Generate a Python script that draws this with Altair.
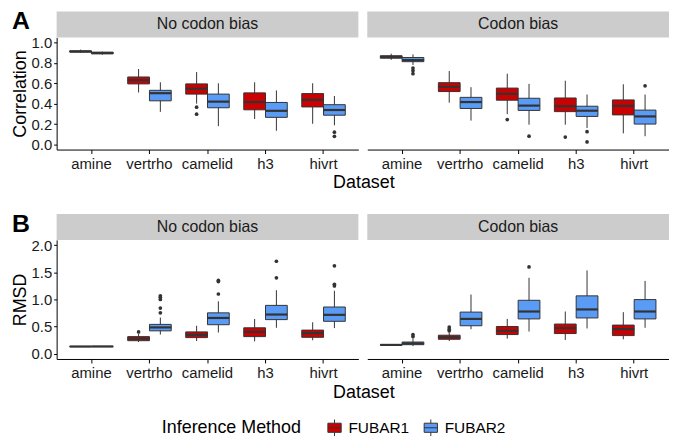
import altair as alt
import pandas as pd

datasets = ["amine", "vertrho", "camelid", "h3", "hivrt"]
methods = ["FUBAR1", "FUBAR2"]
method_colors = ["#CC0000", "#5A9BF5"]
facet_labels = ["No codon bias", "Codon bias"]
corr_ticks = [0.0, 0.2, 0.4, 0.6, 0.8, 1.0]
rmsd_ticks = [0.0, 0.5, 1.0, 1.5, 2.0]

# five-number summaries per dataset: [lower whisker, q1, median, q3, upper whisker]
corr_nobias_fubar1 = [[0.900, 0.906, 0.912, 0.918, 0.930],
                      [0.510, 0.594, 0.631, 0.662, 0.740],
                      [0.400, 0.494, 0.547, 0.594, 0.710],
                      [0.250, 0.340, 0.416, 0.506, 0.610],
                      [0.203, 0.368, 0.437, 0.499, 0.600]]
corr_nobias_fubar2 = [[0.880, 0.889, 0.897, 0.905, 0.910],
                      [0.320, 0.428, 0.503, 0.531, 0.610],
                      [0.180, 0.360, 0.420, 0.494, 0.600],
                      [0.134, 0.266, 0.330, 0.412, 0.530],
                      [0.188, 0.287, 0.338, 0.390, 0.475]]
corr_nobias_outliers = [("camelid", "FUBAR1", 0.366), ("camelid", "FUBAR1", 0.297),
                        ("hivrt", "FUBAR2", 0.120), ("hivrt", "FUBAR2", 0.080)]

corr_bias_fubar1 = [[0.830, 0.846, 0.859, 0.870, 0.890],
                    [0.410, 0.519, 0.566, 0.606, 0.720],
                    [0.297, 0.434, 0.497, 0.553, 0.694],
                    [0.194, 0.322, 0.375, 0.456, 0.625],
                    [0.109, 0.290, 0.378, 0.437, 0.590]]
corr_bias_fubar2 = [[0.780, 0.812, 0.828, 0.853, 0.884],
                    [0.234, 0.353, 0.416, 0.462, 0.562],
                    [0.194, 0.334, 0.381, 0.453, 0.594],
                    [0.162, 0.275, 0.331, 0.375, 0.490],
                    [0.081, 0.200, 0.275, 0.337, 0.490]]
corr_bias_outliers = [("amine", "FUBAR2", 0.750), ("amine", "FUBAR2", 0.725), ("amine", "FUBAR2", 0.694),
                      ("camelid", "FUBAR1", 0.244), ("camelid", "FUBAR2", 0.081),
                      ("h3", "FUBAR1", 0.072), ("h3", "FUBAR2", 0.125), ("h3", "FUBAR2", 0.025),
                      ("hivrt", "FUBAR2", 0.575)]

rmsd_nobias_fubar1 = [[0.125, 0.128, 0.130, 0.132, 0.135],
                      [0.213, 0.238, 0.276, 0.313, 0.360],
                      [0.232, 0.295, 0.345, 0.400, 0.514],
                      [0.226, 0.313, 0.400, 0.476, 0.640],
                      [0.245, 0.300, 0.376, 0.433, 0.578]]
rmsd_nobias_fubar2 = [[0.125, 0.129, 0.131, 0.133, 0.137],
                      [0.351, 0.420, 0.483, 0.539, 0.665],
                      [0.389, 0.533, 0.658, 0.752, 0.966],
                      [0.476, 0.627, 0.721, 0.890, 1.170],
                      [0.470, 0.596, 0.715, 0.860, 1.160]]
rmsd_nobias_outliers = [("vertrho", "FUBAR1", 0.400),
                        ("vertrho", "FUBAR2", 0.752), ("vertrho", "FUBAR2", 0.840), ("vertrho", "FUBAR2", 1.000),
                        ("vertrho", "FUBAR2", 1.040), ("vertrho", "FUBAR2", 1.066),
                        ("camelid", "FUBAR2", 1.100), ("camelid", "FUBAR2", 1.330), ("camelid", "FUBAR2", 1.354),
                        ("h3", "FUBAR2", 1.400), ("h3", "FUBAR2", 1.705),
                        ("hivrt", "FUBAR2", 1.250), ("hivrt", "FUBAR2", 1.280), ("hivrt", "FUBAR2", 1.620)]

rmsd_bias_fubar1 = [[0.150, 0.155, 0.160, 0.165, 0.170],
                    [0.232, 0.264, 0.300, 0.339, 0.390],
                    [0.276, 0.351, 0.420, 0.500, 0.640],
                    [0.251, 0.370, 0.470, 0.545, 0.777],
                    [0.263, 0.332, 0.451, 0.526, 0.765]]
rmsd_bias_fubar2 = [[0.138, 0.164, 0.188, 0.213, 0.280],
                    [0.450, 0.514, 0.640, 0.766, 1.090],
                    [0.407, 0.640, 0.777, 0.984, 1.400],
                    [0.464, 0.658, 0.815, 1.066, 1.536],
                    [0.476, 0.640, 0.777, 0.997, 1.342]]
rmsd_bias_outliers = [("amine", "FUBAR2", 0.313), ("amine", "FUBAR2", 0.350),
                      ("vertrho", "FUBAR1", 0.420), ("vertrho", "FUBAR1", 0.450), ("vertrho", "FUBAR1", 0.490),
                      ("camelid", "FUBAR2", 1.600)]

FONT = "Liberation Sans"
W = 304
STRIP = 26
DARK = "#333333"


def stats_frame(f1, f2):
    rows = []
    for m, arr in zip(methods, [f1, f2]):
        for d, (lo, q1, med, q3, hi) in zip(datasets, arr):
            rows.append({"Dataset": d, "Method": m, "lo": lo, "q1": q1,
                         "med": med, "q3": q3, "hi": hi})
    return pd.DataFrame(rows)


def panel(f1, f2, outs, strip_label, domain, yvals, ytitle, H, show_y, row_label):
    stats = stats_frame(f1, f2)
    out_df = pd.DataFrame(outs, columns=["Dataset", "Method", "val"])
    xaxis = alt.Axis(title=None, labelAngle=0, labelFontSize=15, labelColor="#1a1a1a",
                     domainColor="black", domainWidth=1, tickColor="black", tickSize=4,
                     labelPadding=3, grid=False, labelFont=FONT)
    x = alt.X("Dataset:N", sort=datasets,
              scale=alt.Scale(domain=datasets, paddingInner=0.25, paddingOuter=0.225),
              axis=xaxis)
    xo = alt.XOffset("Method:N", sort=methods,
                     scale=alt.Scale(domain=methods, paddingInner=0, paddingOuter=0))
    ysc = alt.Scale(domain=domain, nice=False, zero=False)
    if show_y:
        yaxis = alt.Axis(title=ytitle, values=yvals, format=".1f", labelFontSize=15,
                         labelColor="#1a1a1a", titleFontSize=18, titleFontWeight="normal",
                         titleColor="black", domainColor="black", tickColor="black",
                         tickSize=3, labelPadding=2, titlePadding=2, grid=False,
                         labelFont=FONT, titleFont=FONT)
    else:
        yaxis = None

    def Y(field):
        return alt.Y(field, scale=ysc, axis=yaxis)

    strip_df = pd.DataFrame({"label": [strip_label]})
    strip = alt.Chart(strip_df).mark_rect(color="#CCCCCC").encode(
        x=alt.value(0), x2=alt.value(W), y=alt.value(-STRIP), y2=alt.value(0))
    strip_txt = alt.Chart(strip_df).mark_text(fontSize=16, color="#1a1a1a", font=FONT,
                                              baseline="middle").encode(
        x=alt.value(W / 2), y=alt.value(-STRIP / 2), text="label:N")
    base = alt.Chart(stats).encode(x=x, xOffset=xo)
    whisk = base.mark_rule(color=DARK, strokeWidth=1).encode(y=Y("lo:Q"), y2="hi:Q")
    box = base.mark_bar(stroke=DARK, strokeWidth=1).encode(
        y=Y("q1:Q"), y2="q3:Q",
        color=alt.Color("Method:N", sort=methods,
                        scale=alt.Scale(domain=methods, range=method_colors),
                        legend=alt.Legend(title="Inference Method")))
    bw = W / 5.2 * 0.75 / 2
    med = base.mark_tick(color=DARK, thickness=2.2, size=bw, opacity=1).encode(y=Y("med:Q"))
    pts = alt.Chart(out_df).mark_circle(color=DARK, size=14, opacity=1).encode(
        x=x, xOffset=xo, y=Y("val:Q"))
    layers = [strip, strip_txt, whisk, box, med, pts]
    if row_label:
        lab = alt.Chart(pd.DataFrame({"lab": [row_label]})).mark_text(
            fontSize=25, fontWeight="bold", align="left", baseline="alphabetic",
            font=FONT, color="black").encode(x=alt.value(-45), y=alt.value(-8), text="lab:N")
        layers.append(lab)
    return alt.layer(*layers).properties(width=W, height=H)


def row(f1a, f2a, outa, f1b, f2b, outb, domain, yvals, ytitle, H, row_label):
    left = panel(f1a, f2a, outa, facet_labels[0], domain, yvals, ytitle, H, True, row_label)
    right = panel(f1b, f2b, outb, facet_labels[1], domain, yvals, ytitle, H, False, None)
    return alt.hconcat(left, right, spacing=9,
                       title=alt.TitleParams("Dataset", orient="bottom", anchor="middle",
                                             fontSize=18, fontWeight="normal", color="black",
                                             font=FONT, dx=24, offset=3))


rowA = row(corr_nobias_fubar1, corr_nobias_fubar2, corr_nobias_outliers,
           corr_bias_fubar1, corr_bias_fubar2, corr_bias_outliers,
           [-0.05, 1.05], corr_ticks, "Correlation", 113, "A")
rowB = row(rmsd_nobias_fubar1, rmsd_nobias_fubar2, rmsd_nobias_outliers,
           rmsd_bias_fubar1, rmsd_bias_fubar2, rmsd_bias_outliers,
           [-0.1, 2.1], rmsd_ticks, "RMSD", 120, "B")

chart = alt.vconcat(rowA, rowB, spacing=20).properties(
    padding={"left": 3, "top": 0, "right": 0, "bottom": 0}
).configure_view(stroke=None).configure_legend(
    orient="none", legendX=106, legendY=384, direction="horizontal",
    titleOrient="left", titleFontSize=18, titleFontWeight="normal", titleColor="black",
    titleFont=FONT, labelFont=FONT, labelFontSize=15.5, labelColor="black",
    symbolType="M-0.8,-0.55H0.8V0.55H-0.8Z M-0.8,0H0.8 M0,-1V-0.55 M0,0.55V1",
    symbolSize=280, symbolStrokeColor=DARK, symbolStrokeWidth=1, symbolOpacity=1,
    titlePadding=24, columnPadding=12, labelOffset=5, titleBaseline="middle"
).configure_axis(labelFont=FONT, titleFont=FONT)

chart.save("out.html", embed_options={"renderer": "svg", "actions": False})
